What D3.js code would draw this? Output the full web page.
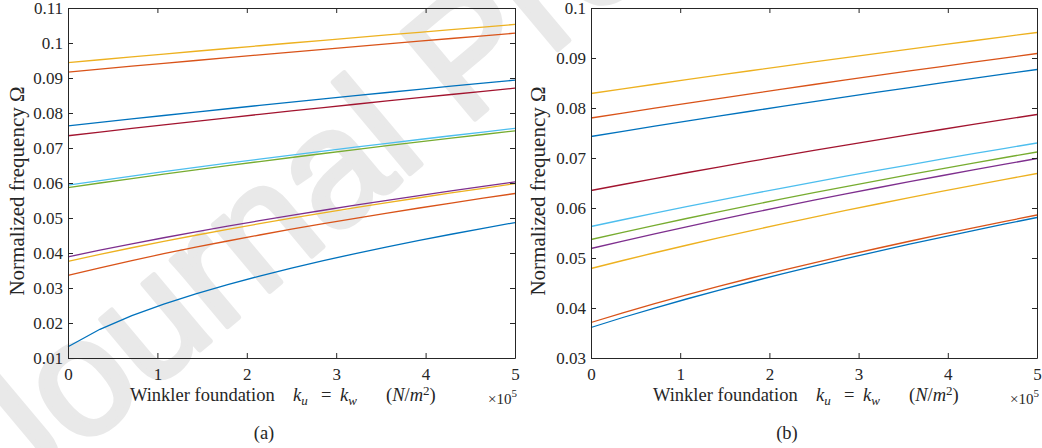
<!DOCTYPE html>
<html>
<head>
<meta charset="utf-8">
<script src="https://cdn.jsdelivr.net/npm/d3@7"></script>
<style>
  html, body { margin: 0; padding: 0; background: #fff; }
  svg { display: block; }
</style>
</head>
<body>
<svg id="chart" width="1042" height="448"></svg>
<script>
// Winkler foundation stiffness samples (x 10^5 N/m^2)
const kValues = [0, 0.357, 0.714, 1.071, 1.429, 1.786, 2.143, 2.5, 2.857, 3.214, 3.571, 3.929, 4.286, 4.643, 5];

// MATLAB default colour order, one per mode
const seriesColors = ["#0072BD", "#D95319", "#EDB120", "#7E2F8E", "#77AC30", "#4DBEEE", "#A2142F", "#0072BD", "#D95319", "#EDB120"];

// Panel (a): normalized frequency of the first ten modes
const freqA1 = [0.0132, 0.0182, 0.02209, 0.0254, 0.02832, 0.03097, 0.03341, 0.03568, 0.03781, 0.03984, 0.04176, 0.0436, 0.04536, 0.04706, 0.0487];
const freqA2 = [0.0336, 0.03578, 0.03784, 0.03979, 0.04165, 0.04343, 0.04514, 0.04679, 0.04838, 0.04992, 0.05141, 0.05286, 0.05428, 0.05566, 0.057];
const freqA3 = [0.0376, 0.0396, 0.0415, 0.04333, 0.04507, 0.04675, 0.04838, 0.04995, 0.05147, 0.05295, 0.05439, 0.05579, 0.05716, 0.05849, 0.0598];
const freqA4 = [0.0389, 0.0408, 0.04262, 0.04436, 0.04604, 0.04766, 0.04922, 0.05074, 0.05221, 0.05365, 0.05504, 0.0564, 0.05773, 0.05903, 0.0603];
const freqA5 = [0.0587, 0.06, 0.06128, 0.06253, 0.06375, 0.06495, 0.06613, 0.06729, 0.06843, 0.06955, 0.07065, 0.07174, 0.07281, 0.07386, 0.0749];
const freqA6 = [0.0594, 0.0607, 0.06197, 0.06322, 0.06445, 0.06565, 0.06683, 0.06798, 0.06912, 0.07024, 0.07135, 0.07243, 0.0735, 0.07456, 0.0756];
const freqA7 = [0.0735, 0.07455, 0.07559, 0.07662, 0.07763, 0.07863, 0.07961, 0.08059, 0.08155, 0.0825, 0.08344, 0.08437, 0.08529, 0.0862, 0.0871];
const freqA8 = [0.0763, 0.07731, 0.07831, 0.07929, 0.08026, 0.08122, 0.08217, 0.08311, 0.08404, 0.08495, 0.08586, 0.08676, 0.08765, 0.08853, 0.0894];
const freqA9 = [0.0917, 0.09254, 0.09337, 0.09419, 0.095, 0.09581, 0.09661, 0.09741, 0.0982, 0.09898, 0.09975, 0.10052, 0.10129, 0.10205, 0.1028];
const freqA10 = [0.0944, 0.09522, 0.09603, 0.09684, 0.09764, 0.09843, 0.09922, 0.1, 0.10077, 0.10154, 0.10231, 0.10306, 0.10381, 0.10456, 0.1053];

// Panel (b)
const freqB1 = [0.0361, 0.0381, 0.03999, 0.0418, 0.04354, 0.0452, 0.04681, 0.04837, 0.04987, 0.05134, 0.05276, 0.05414, 0.05549, 0.05681, 0.0581];
const freqB2 = [0.0371, 0.03903, 0.04087, 0.04263, 0.04432, 0.04595, 0.04752, 0.04904, 0.05052, 0.05195, 0.05335, 0.05471, 0.05604, 0.05733, 0.0586];
const freqB3 = [0.0479, 0.0495, 0.05105, 0.05255, 0.05401, 0.05544, 0.05683, 0.05818, 0.05951, 0.0608, 0.06207, 0.06331, 0.06453, 0.06573, 0.0669];
const freqB4 = [0.0519, 0.05339, 0.05483, 0.05624, 0.05762, 0.05896, 0.06028, 0.06156, 0.06282, 0.06405, 0.06527, 0.06645, 0.06762, 0.06877, 0.0699];
const freqB5 = [0.0537, 0.05513, 0.05653, 0.0579, 0.05923, 0.06053, 0.06181, 0.06306, 0.06429, 0.06549, 0.06667, 0.06783, 0.06897, 0.0701, 0.0712];
const freqB6 = [0.0563, 0.05765, 0.05898, 0.06027, 0.06154, 0.06278, 0.06399, 0.06519, 0.06636, 0.06751, 0.06864, 0.06976, 0.07086, 0.07194, 0.073];
const freqB7 = [0.0635, 0.0647, 0.06589, 0.06705, 0.06819, 0.06931, 0.07042, 0.07151, 0.07258, 0.07363, 0.07467, 0.0757, 0.07671, 0.07771, 0.0787];
const freqB8 = [0.0743, 0.07534, 0.07636, 0.07737, 0.07836, 0.07935, 0.08032, 0.08128, 0.08223, 0.08316, 0.08409, 0.08501, 0.08591, 0.08681, 0.0877];
const freqB9 = [0.078, 0.07899, 0.07997, 0.08094, 0.08189, 0.08284, 0.08377, 0.0847, 0.08561, 0.08651, 0.08741, 0.08829, 0.08917, 0.09004, 0.0909];
const freqB10 = [0.0829, 0.08383, 0.08475, 0.08566, 0.08656, 0.08745, 0.08833, 0.08921, 0.09007, 0.09093, 0.09178, 0.09262, 0.09345, 0.09428, 0.0951];

// Axis ticks
const xTicks = [0, 1, 2, 3, 4, 5];
const yTicksA = [0.01, 0.02, 0.03, 0.04, 0.05, 0.06, 0.07, 0.08, 0.09, 0.1, 0.11];
const yTicksB = [0.03, 0.04, 0.05, 0.06, 0.07, 0.08, 0.09, 0.1];

const panels = [
  { series: [freqA1, freqA2, freqA3, freqA4, freqA5, freqA6, freqA7, freqA8, freqA9, freqA10],
    yDomain: [0.01, 0.11], yTicks: yTicksA, left: 68, right: 515, caption: "(a)", captionX: 264, yLabelGap: 44 },
  { series: [freqB1, freqB2, freqB3, freqB4, freqB5, freqB6, freqB7, freqB8, freqB9, freqB10],
    yDomain: [0.03, 0.1], yTicks: yTicksB, left: 591, right: 1037, caption: "(b)", captionX: 787, yLabelGap: 46 }
];

const plotTop = 8, plotBottom = 358;
const serif = '"Liberation Serif", "Times New Roman", serif';
const textColor = "#262626";
const axisColor = "#262626";
const svg = d3.select("#chart");

// Faint diagonal stamp behind the plots
svg.append("text")
  .attr("transform", "translate(15,505) rotate(-40)")
  .style("font-family", '"Liberation Sans", Arial, sans-serif')
  .style("font-size", "165px")
  .attr("fill", "#e9e9e9")
  .attr("stroke", "#e9e9e9")
  .attr("stroke-width", 5)
  .attr("stroke-linejoin", "round")
  .text("Journal Pre-proof");

const fmt = d => String(+d.toFixed(2));

function label(g, x, y, size) {
  return g.append("text").attr("x", x).attr("y", y)
    .style("font-family", serif).style("font-size", size + "px").attr("fill", textColor);
}

panels.forEach(p => {
  const x = d3.scaleLinear().domain([0, 5]).range([p.left, p.right]);
  const y = d3.scaleLinear().domain(p.yDomain).range([plotBottom, plotTop]);
  const g = svg.append("g");

  // data lines
  const line = d3.line().x((d, i) => x(kValues[i])).y(d => y(d));
  p.series.forEach((s, i) => {
    g.append("path").datum(s)
      .attr("fill", "none")
      .attr("stroke", seriesColors[i])
      .attr("stroke-width", 1.3)
      .attr("d", line);
  });

  // axes with inward ticks on all four sides (boxed)
  const tl = 5;
  const bAxis = g.append("g").attr("transform", `translate(0,${plotBottom})`)
    .call(d3.axisBottom(x).tickValues(xTicks).tickSizeInner(-tl).tickSizeOuter(0).tickPadding(10).tickFormat(d3.format("d")));
  const tAxis = g.append("g").attr("transform", `translate(0,${plotTop})`)
    .call(d3.axisTop(x).tickValues(xTicks).tickSizeInner(-tl).tickSizeOuter(0).tickFormat(""));
  const lAxis = g.append("g").attr("transform", `translate(${p.left},0)`)
    .call(d3.axisLeft(y).tickValues(p.yTicks).tickSizeInner(-tl).tickSizeOuter(0).tickPadding(5).tickFormat(fmt));
  const rAxis = g.append("g").attr("transform", `translate(${p.right},0)`)
    .call(d3.axisRight(y).tickValues(p.yTicks).tickSizeInner(-tl).tickSizeOuter(0).tickFormat(""));
  [bAxis, tAxis, lAxis, rAxis].forEach(a => {
    a.attr("font-family", null).attr("font-size", null);
    a.select(".domain").attr("stroke", axisColor).attr("stroke-width", 1);
    a.selectAll(".tick line").attr("stroke", axisColor).attr("stroke-width", 1);
    a.selectAll(".tick text")
      .style("font-family", serif).style("font-size", "17px").attr("fill", textColor);
  });
  lAxis.selectAll(".tick text").attr("x", -5);
  bAxis.selectAll(".tick text").attr("dy", "0.72em");

  // x-axis label, set piece by piece
  label(g, p.left + 62, 401, 18.5).text("Winkler foundation");
  const ku = label(g, p.left + 225, 401, 18.5).style("font-style", "italic");
  ku.append("tspan").text("k");
  ku.append("tspan").attr("dy", 4).style("font-size", "13px").text("u");
  label(g, p.left + 253, 401, 18.5).text("=");
  const kw = label(g, p.left + 272, 401, 18.5).style("font-style", "italic");
  kw.append("tspan").text("k");
  kw.append("tspan").attr("dy", 4).style("font-size", "13px").text("w");
  const unit = label(g, p.left + 318, 401, 18.5);
  unit.append("tspan").text("(");
  unit.append("tspan").style("font-style", "italic").text("N");
  unit.append("tspan").text("/");
  unit.append("tspan").style("font-style", "italic").text("m");
  unit.append("tspan").attr("dy", -6).style("font-size", "13px").text("2");
  unit.append("tspan").attr("dy", 6).text(")");

  // exponent marker
  const ex = label(g, p.right + 2, 404, 15).attr("text-anchor", "end");
  ex.append("tspan").text("\u00d710");
  ex.append("tspan").attr("dy", -7).style("font-size", "11px").text("5");

  // y-axis label
  label(g, 0, 0, 21)
    .attr("transform", `translate(${p.left - p.yLabelGap},${(plotTop + plotBottom) / 2 + 8}) rotate(-90)`)
    .attr("text-anchor", "middle")
    .text("Normalized frequency \u03a9");

  // panel caption
  label(g, p.captionX, 439, 18.5).attr("text-anchor", "middle").text(p.caption);
});
</script>
</body>
</html>
